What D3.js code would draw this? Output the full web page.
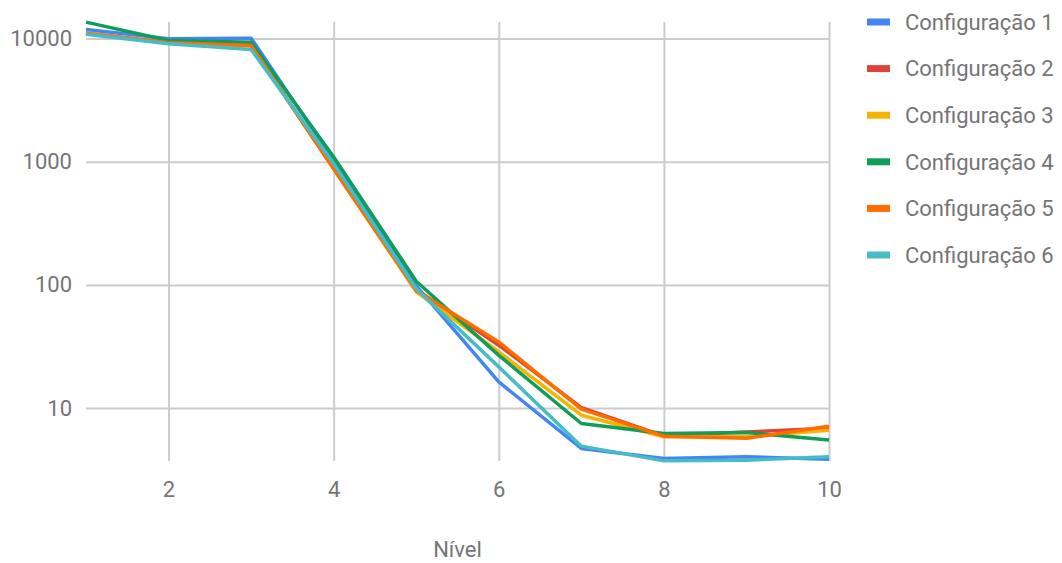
<!DOCTYPE html>
<html>
<head>
<meta charset="utf-8">
<script src="https://cdn.jsdelivr.net/npm/d3@7"></script>
<style>
  html, body { margin: 0; padding: 0; background: #fff; }
  svg { display: block; font-family: Roboto, "Noto Sans", sans-serif; }
</style>
</head>
<body>
<svg id="chart" width="1062" height="563"></svg>
<script>
// Níveis (eixo x)
const niveis = [1, 2, 3, 4, 5, 6, 7, 8, 9, 10];

// Séries
const seriesNames = [
  "Configuração 1", "Configuração 2", "Configuração 3",
  "Configuração 4", "Configuração 5", "Configuração 6"
];
const config1 = [11830, 9930, 10060, 1020, 98, 16.3, 4.70, 3.90, 4.02, 3.85];
const config2 = [11040, 9210, 8800, 890, 92, 32.4, 10.1, 5.95, 6.39, 6.85];
const config3 = [11000, 9200, 8700, 880, 88, 28.6, 8.75, 5.85, 5.85, 6.62];
const config4 = [13560, 9630, 9330, 1090, 107, 26.8, 7.50, 6.22, 6.34, 5.50];
const config5 = [11000, 9210, 8770, 870, 90, 34.4, 9.8, 5.92, 5.68, 7.13];
const config6 = [10830, 9040, 8140, 960, 93, 21.6, 4.91, 3.73, 3.78, 4.02];
const seriesValues = [config1, config2, config3, config4, config5, config6];
const seriesColors = ["#4285F4", "#DB4437", "#F4B400", "#0F9D58", "#FF6D00", "#46BDC6"];

// Marcas dos eixos
const xTicks = [2, 4, 6, 8, 10];
const yTicks = [10, 100, 1000, 10000];
const xTitle = "Nível";

const svg = d3.select("#chart");
const plot = { left: 86, right: 829, top: 22, bottom: 461 };
const fontSize = 22;

const x = d3.scaleLinear().domain([1, 10]).range([plot.left, plot.right]);
const y = d3.scaleLog().domain([3.72, 13600]).range([plot.bottom, plot.top]);

const textColor = "#757575";
const gridColor = "#cccccc";

// Grade vertical
svg.append("g")
  .attr("transform", `translate(0,${plot.bottom})`)
  .call(d3.axisBottom(x).tickValues(xTicks).tickSize(-(plot.bottom - plot.top)).tickFormat(d3.format("d")).tickPadding(20))
  .call(g => g.select(".domain").remove())
  .call(g => g.selectAll(".tick line").attr("stroke", gridColor).attr("stroke-width", 2))
  .call(g => g.selectAll(".tick text").attr("fill", textColor).attr("font-size", fontSize).attr("font-family", "Roboto"));

// Grade horizontal
svg.append("g")
  .attr("transform", `translate(${plot.left},0)`)
  .call(d3.axisLeft(y).tickValues(yTicks).tickSize(-(plot.right - plot.left)).tickFormat(d3.format("d")).tickPadding(14))
  .call(g => g.select(".domain").remove())
  .call(g => g.selectAll(".tick line").attr("stroke", gridColor).attr("stroke-width", 2))
  .call(g => g.selectAll(".tick text").attr("fill", textColor).attr("font-size", fontSize).attr("font-family", "Roboto"));

// Linhas das séries
const line = d3.line().x((d, i) => x(niveis[i])).y(d => y(d));
svg.append("g")
  .selectAll("path")
  .data(seriesValues)
  .join("path")
  .attr("d", line)
  .attr("fill", "none")
  .attr("stroke", (d, i) => seriesColors[i])
  .attr("stroke-width", 3.5)
  .attr("stroke-linejoin", "round");

// Título do eixo x
svg.append("text")
  .attr("x", (plot.left + plot.right) / 2)
  .attr("y", 557)
  .attr("text-anchor", "middle")
  .attr("fill", textColor)
  .attr("font-size", fontSize)
  .text(xTitle);

// Legenda
const legend = svg.append("g").attr("transform", "translate(867,22)");
const rows = legend.selectAll("g")
  .data(seriesNames)
  .join("g")
  .attr("transform", (d, i) => `translate(0,${i * 46.6})`);
rows.append("rect")
  .attr("x", 0).attr("y", -3.5).attr("width", 23).attr("height", 7)
  .attr("fill", (d, i) => seriesColors[i]);
rows.append("text")
  .attr("x", 38).attr("y", 0).attr("dy", "0.35em")
  .attr("fill", textColor)
  .attr("font-size", fontSize)
  .text(d => d);
</script>
</body>
</html>
